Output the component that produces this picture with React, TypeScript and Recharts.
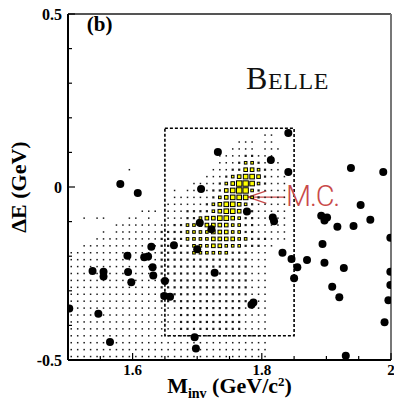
import React from "react";
import {
  ScatterChart,
  Scatter,
  XAxis,
  YAxis,
  ReferenceArea,
  ReferenceLine,
  ReferenceDot,
  Label,
} from "recharts";

const SERIF = '"Liberation Serif", "Times New Roman", serif';

// axis ticks
const X_TICKS = [1.5, 1.55, 1.6, 1.65, 1.7, 1.75, 1.8, 1.85, 1.9, 1.95, 2];
const X_LABELS = [1.6, 1.8, 2];
const Y_TICKS = [-0.5, -0.4, -0.3, -0.2, -0.1, 0, 0.1, 0.2, 0.3, 0.4, 0.5];
const Y_LABELS = [-0.5, 0, 0.5];

// data events (black dots): M_inv [GeV/c^2], dE [GeV]
const EVENT_MINV = [
  1.581, 1.608, 1.706, 1.841, 1.732, 1.814, 1.841, 1.938, 1.988, 1.704,
  1.664, 1.629, 1.7, 1.592, 1.618, 1.624, 1.538, 1.555, 1.555, 1.593,
  1.631, 1.632, 1.598, 1.65, 1.649, 1.658, 1.502, 1.547, 1.565, 1.696,
  1.698, 1.953, 1.777, 1.817, 1.819, 1.892, 1.901, 1.897, 1.917, 1.942,
  1.968, 1.999, 1.722, 1.894, 1.832, 1.846, 1.87, 1.897, 1.855, 1.927,
  1.999, 1.727, 1.85, 1.909, 1.999, 1.92, 1.996, 1.784, 1.787, 1.99, 1.93,
];
const EVENT_DE = [
  0.009, -0.017, -0.006, 0.156, 0.101, 0.078, 0.043, 0.055, 0.043, -0.103,
  -0.168, -0.173, -0.18, -0.199, -0.203, -0.201, -0.243, -0.245, -0.259, -0.246,
  -0.232, -0.256, -0.275, -0.272, -0.315, -0.317, -0.351, -0.366, -0.448, -0.434,
  -0.467, -0.052, -0.071, -0.088, -0.099, -0.083, -0.088, -0.097, -0.115, -0.113,
  -0.095, -0.147, -0.122, -0.165, -0.19, -0.208, -0.211, -0.219, -0.232, -0.234,
  -0.245, -0.248, -0.264, -0.288, -0.283, -0.319, -0.327, -0.34, -0.334, -0.391, -0.488,
];

// signal box
const BOX_MINV = [1.65, 1.85];
const BOX_DE = [-0.43, 0.17];

// M.C. 2D histogram, box size level 0-6 per bin.
// columns: M_inv 1.50..2.00 in 0.01 bins; rows: dE bins of 0.02, top row centred at 0.15
const MC_TOP = 0.15;
const MC_ROWS = [
  "0000000000 0000000000 0000000000 1100000000 0000000000",
  "0000000000 0000000000 0000001110 1100000000 0000000000",
  "0000000000 0000000000 0000011110 1110000000 0000000000",
  "0000000000 0000000000 0001111221 1100000000 0000000000",
  "0000000000 0000000000 0001112332 1110000000 0000000000",
  "0000000001 0000000000 0011122443 2110000000 0000000000",
  "0000000000 0000000000 0111234554 2111000000 0000000000",
  "0000000000 0000000001 1112346653 2111000000 0000000000",
  "0000000000 0000001011 1122456632 1111000000 0000000000",
  "0000000000 0000001111 1123455532 1111000000 0000000000",
  "0000000000 0000011111 1234554321 1111000000 0000000000",
  "0000000000 0111011122 2234554321 1111000000 0000000000",
  "0010110001 1010011122 3445543221 1111000000 0000000000",
  "0000000111 1111112233 3444433221 1111000000 0000000000",
  "0000010111 1111222233 3344433221 1111000000 0000000000",
  "0000111111 1111222233 3344443322 2111000000 0000000000",
  "0011111111 1111222223 3344333222 1100000000 0000000000",
  "1111111111 1111222223 3333322211 1000000000 0000000000",
  "1111111111 1111222222 2222222211 1000000000 0000000000",
  "1111111111 1111222222 2222222211 1000000000 0000000000",
  "1111111111 1111222222 2222222211 1000000000 0000000000",
  "1111111111 1111222222 2222222211 1000000000 0000000000",
  "1111111111 1111222222 2222222211 1000000000 0000000000",
  "1111111111 1111222222 2222222211 1000000000 0000000000",
  "1111111111 1111222222 2222222211 1000000000 0000000000",
  "1111111111 1111111222 2222222111 1000000000 0000000000",
  "1111111111 1111111222 2222222111 1000000000 0000000000",
  "1111111111 1111111222 2222222111 1000000000 0000000000",
  "1111111111 1111111222 2222222111 1000000000 0000000000",
  "1111111111 1111111111 1111111111 1000000000 0000000000",
  "1111111111 1111111111 1111111111 1000000000 0000000000",
  "1111111111 1111111111 1111111111 1000000000 0000000000",
  "1111111111 1111111111 1111111111 1000000000 0000000000",
];

const events = EVENT_MINV.map((x, i) => ({ x, y: EVENT_DE[i] }));

const mcCells = MC_ROWS.flatMap((row, r) =>
  row
    .replace(/ /g, "")
    .split("")
    .map((c, i) => ({ x: 1.505 + 0.01 * i, y: MC_TOP - 0.02 * r, lvl: Number(c) }))
    .filter((d) => d.lvl > 0)
);

const CELL_SIZE = [0, 1.5, 2.2, 3.6, 4.6, 5.6, 6.4];

const McCell = (props: any) => {
  const { cx, cy, payload } = props;
  const s = CELL_SIZE[payload.lvl];
  if (payload.lvl <= 2)
    return <rect x={cx - s / 2} y={cy - s / 2} width={s} height={s} fill="#1a1a1a" />;
  return (
    <rect
      x={cx - s / 2 + 0.5}
      y={cy - s / 2 + 0.5}
      width={s - 1}
      height={s - 1}
      fill="#ffff00"
      stroke="#000"
      strokeWidth={1}
    />
  );
};

const EventDot = (props: any) => <circle cx={props.cx} cy={props.cy} r={4} fill="#000" />;

const near = (a: number, b: number) => Math.abs(a - b) < 1e-6;

const XTick = ({ x, y, payload }: any) => {
  const lab = X_LABELS.find((v) => near(v, payload.value));
  const len = lab !== undefined ? 7 : 4;
  return (
    <g>
      <line x1={x} y1={y} x2={x} y2={y - len} stroke="#000" strokeWidth={1.2} />
      {lab !== undefined && (
        <text x={x} y={y + 15} textAnchor="middle" fontFamily={SERIF} fontWeight="bold" fontSize={15} fill="#000">
          {String(lab)}
        </text>
      )}
    </g>
  );
};

const YTick = ({ x, y, payload }: any) => {
  const lab = Y_LABELS.find((v) => near(v, payload.value));
  const len = lab !== undefined ? 7 : 4;
  return (
    <g>
      <line x1={x} y1={y} x2={x + len} y2={y} stroke="#000" strokeWidth={1.2} />
      {lab !== undefined && (
        <text x={x - 6} y={y + 5.5} textAnchor="end" fontFamily={SERIF} fontWeight="bold" fontSize={16} fill="#000">
          {String(lab)}
        </text>
      )}
    </g>
  );
};

const XTitle = ({ viewBox }: any) => {
  const cx = viewBox.x + viewBox.width / 2;
  const base = viewBox.y + 33;
  return (
    <text x={cx} y={base} textAnchor="middle" fontFamily={SERIF} fontWeight="bold" fontSize={22} fill="#000">
      <tspan>M</tspan>
      <tspan fontSize={14} dy={5}>inv</tspan>
      <tspan dy={-5}> (GeV/c</tspan>
      <tspan fontSize={13} dy={-7}>2</tspan>
      <tspan dy={7}>)</tspan>
    </text>
  );
};

const YTitle = ({ viewBox }: any) => {
  const bx = viewBox.x + 18;
  const cy = viewBox.y + viewBox.height / 2;
  return (
    <text
      x={bx}
      y={cy}
      transform={`rotate(-90, ${bx}, ${cy})`}
      textAnchor="middle"
      fontFamily={SERIF}
      fontWeight="bold"
      fontSize={22}
      fill="#000"
    >
      ΔE (GeV)
    </text>
  );
};

const PanelTag = ({ viewBox }: any) => (
  <text x={viewBox.x} y={viewBox.y} fontFamily={SERIF} fontWeight="bold" fontSize={21} fill="#000">
    (b)
  </text>
);

const BelleTag = ({ viewBox }: any) => (
  <text x={viewBox.x} y={viewBox.y} fontFamily={SERIF} fill="#111" letterSpacing={0.6}>
    <tspan fontSize={32}>B</tspan>
    <tspan fontSize={24}>ELLE</tspan>
  </text>
);

const McTag = ({ viewBox }: any) => (
  <text
    x={viewBox.x}
    y={viewBox.y}
    fontFamily="Roboto, sans-serif"
    fontWeight={300}
    fontSize={29}
    letterSpacing={-1.2}
    fill="#c94a4a"
  >
    M.C.
  </text>
);

const RED = "#c94a4a";

export default function App() {
  return (
    <div style={{ position: "absolute", left: 0, top: 0, width: 394, height: 401, background: "#fff" }}>
      <ScatterChart width={394} height={401} margin={{ top: 14, right: 3, bottom: 5, left: 8 }}>
        <XAxis
          type="number"
          dataKey="x"
          domain={[1.5, 2]}
          ticks={X_TICKS}
          interval={0}
          tick={XTick}
          tickLine={false}
          tickSize={0}
          tickMargin={0}
          height={36}
          allowDataOverflow
          axisLine={{ stroke: "#000", strokeWidth: 2 }}
        >
          <Label content={XTitle} />
        </XAxis>
        <YAxis
          type="number"
          dataKey="y"
          domain={[-0.5, 0.5]}
          ticks={Y_TICKS}
          interval={0}
          tick={YTick}
          tickLine={false}
          tickSize={0}
          tickMargin={0}
          width={60}
          allowDataOverflow
          axisLine={{ stroke: "#000", strokeWidth: 2 }}
        >
          <Label content={YTitle} />
        </YAxis>
        <ReferenceLine y={0.5} stroke="#555" strokeWidth={1.8} />
        <ReferenceLine x={2} stroke="#777" strokeWidth={2} />
        <Scatter data={mcCells} shape={McCell} isAnimationActive={false} />
        <ReferenceArea
          x1={BOX_MINV[0]}
          x2={BOX_MINV[1]}
          y1={BOX_DE[0]}
          y2={BOX_DE[1]}
          fill="none"
          stroke="#000"
          strokeWidth={1.6}
          strokeDasharray="3 2"
        />
        <Scatter data={events} shape={EventDot} isAnimationActive={false} />
        <ReferenceLine segment={[{ x: 1.836, y: -0.029 }, { x: 1.779, y: -0.029 }]} stroke={RED} strokeWidth={1.3} />
        <ReferenceLine segment={[{ x: 1.779, y: -0.029 }, { x: 1.807, y: -0.011 }]} stroke={RED} strokeWidth={1.3} />
        <ReferenceLine segment={[{ x: 1.779, y: -0.029 }, { x: 1.807, y: -0.047 }]} stroke={RED} strokeWidth={1.3} />
        <ReferenceDot x={1.529} y={0.451} r={0} fill="none" stroke="none" label={PanelTag} />
        <ReferenceDot x={1.7755} y={0.283} r={0} fill="none" stroke="none" label={BelleTag} />
        <ReferenceDot x={1.8375} y={-0.055} r={0} fill="none" stroke="none" label={McTag} />
      </ScatterChart>
    </div>
  );
}
